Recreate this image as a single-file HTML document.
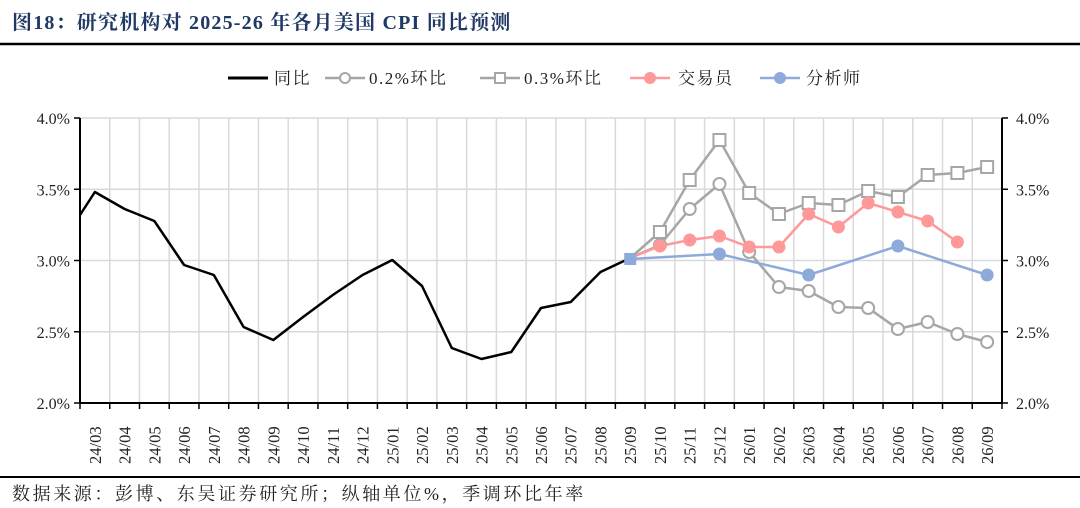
<!DOCTYPE html>
<html><head><meta charset="utf-8"><style>
body{margin:0;background:#fff;width:1080px;height:508px;overflow:hidden}
svg{display:block}
text{font-family:"Liberation Serif","Noto Serif CJK SC",serif}
</style></head><body>
<svg width="1080" height="508" viewBox="0 0 1080 508">
<text x="12" y="29" font-size="20" font-weight="bold" fill="#1f3864" letter-spacing="1.2">图18：研究机构对 2025-26 年各月美国 CPI 同比预测</text>
<line x1="0" y1="44" x2="1080" y2="44" stroke="#000" stroke-width="2.5"/>
<!-- legend -->
<g font-size="17" fill="#222" letter-spacing="1.5">
<line x1="228" y1="78" x2="268" y2="78" stroke="#000" stroke-width="3"/><text x="274" y="84">同比</text>
<line x1="325" y1="78" x2="365" y2="78" stroke="#a6a6a6" stroke-width="2.5"/><circle cx="345" cy="78" r="5" fill="#fff" stroke="#a6a6a6" stroke-width="2"/><text x="369" y="84">0.2%环比</text>
<line x1="480" y1="78" x2="520" y2="78" stroke="#a6a6a6" stroke-width="2.5"/><rect x="495" y="73" width="10" height="10" fill="#fff" stroke="#a6a6a6" stroke-width="2"/><text x="524" y="84">0.3%环比</text>
<line x1="630" y1="78" x2="670" y2="78" stroke="#ff9999" stroke-width="2.5"/><circle cx="650" cy="78" r="6" fill="#ff9999"/><text x="678" y="84">交易员</text>
<line x1="760" y1="78" x2="800" y2="78" stroke="#8eaadb" stroke-width="2.5"/><circle cx="780" cy="78" r="6" fill="#8eaadb"/><text x="806" y="84">分析师</text>
</g>
<g stroke="#d9d9d9" stroke-width="1.5" id="grid"></g>
<g id="axes"></g>
<g id="series"></g>
<line x1="0" y1="477" x2="1080" y2="477" stroke="#000" stroke-width="2"/>
<text x="12" y="500" font-size="18" fill="#222" letter-spacing="2.6">数据来源：彭博、东吴证券研究所；纵轴单位%，季调环比年率</text>
</svg>
<script>
const NS="http://www.w3.org/2000/svg";
function el(p,t,a,txt){const e=document.createElementNS(NS,t);for(const k in a)e.setAttribute(k,a[k]);if(txt!==undefined)e.textContent=txt;p.appendChild(e);return e;}
const L=80,R=1002,T=118,B=403,n=31,w=(R-L)/n;
const g=document.getElementById('grid'),ax=document.getElementById('axes'),s=document.getElementById('series');
for(let i=1;i<n;i++)el(g,'line',{x1:L+w*i,y1:T,x2:L+w*i,y2:B});
for(let k=0;k<4;k++){const y=T+k*(B-T)/4;el(g,'line',{x1:L,y1:y,x2:R,y2:y});}
el(ax,'line',{x1:L,y1:T,x2:L,y2:B,stroke:'#000','stroke-width':2});
el(ax,'line',{x1:R,y1:T,x2:R,y2:B,stroke:'#000','stroke-width':2});
el(ax,'line',{x1:L,y1:B,x2:R,y2:B,stroke:'#000','stroke-width':2});
const labs=['4.0%','3.5%','3.0%','2.5%','2.0%'];
for(let k=0;k<5;k++){const y=T+k*(B-T)/4;
el(ax,'line',{x1:L-6,y1:y,x2:L,y2:y,stroke:'#000','stroke-width':1.5});
el(ax,'line',{x1:R,y1:y,x2:R+6,y2:y,stroke:'#000','stroke-width':1.5});
el(ax,'text',{x:L-10,y:y+6,'font-size':16,'text-anchor':'end',fill:'#222'},labs[k]);
el(ax,'text',{x:R+14,y:y+6,'font-size':16,fill:'#222'},labs[k]);}
const cats=[];for(let i=3;i<=12;i++)cats.push('24/'+String(i).padStart(2,'0'));for(let i=1;i<=12;i++)cats.push('25/'+String(i).padStart(2,'0'));for(let i=1;i<=9;i++)cats.push('26/'+String(i).padStart(2,'0'));
for(let i=0;i<=n;i++)el(ax,'line',{x1:L+w*i,y1:B,x2:L+w*i,y2:B+6,stroke:'#000','stroke-width':1.5});
cats.forEach((c,i)=>{const x=L+w*(i+0.5)+6;el(ax,'text',{x:x,y:464,'font-size':16.5,fill:'#222',transform:`rotate(-90 ${x} 464)`},c);});
const cx=i=>L+w*(i+0.5);
function line(pts,col,sw){el(s,'polyline',{points:pts.map(p=>p.join(',')).join(' '),fill:'none',stroke:col,'stroke-width':sw,'stroke-linejoin':'round'});}
const blackY=[192,209,221,265,275,327,340,317,295,275,260,286,348,359,352,308,302,272,258];
const bp=[[L,215]].concat(blackY.map((y,i)=>[cx(i),y]));line(bp,'#000',2.5);
const y2=[258,245,209,184,252,287,291,307,308,329,322,334,342];
const p2=y2.map((y,i)=>[cx(18+i),y]);
const y3=[258,232,180,140,193,214,203,205,191,197,175,173,167];
const p3=y3.map((y,i)=>[cx(18+i),y]);
line(p3,'#a6a6a6',2.5);line(p2,'#a6a6a6',2.5);
const yt=[258,246,240,236,247,247,214,227,203,212,221,242];
const pt=yt.map((y,i)=>[cx(18+i),y]);line(pt,'#ff9999',2.5);
const pa=[[cx(18),259],[cx(21),254],[cx(24),275],[cx(27),246],[cx(30),275]];line(pa,'#8eaadb',2.5);
p3.slice(1).forEach(p=>el(s,'rect',{x:p[0]-6,y:p[1]-6,width:12,height:12,fill:'#fff',stroke:'#a6a6a6','stroke-width':2}));
p2.slice(1).forEach(p=>el(s,'circle',{cx:p[0],cy:p[1],r:6,fill:'#fff',stroke:'#a6a6a6','stroke-width':2}));
pt.slice(1).forEach(p=>el(s,'circle',{cx:p[0],cy:p[1],r:6.5,fill:'#ff9999'}));
pa.slice(1).forEach(p=>el(s,'circle',{cx:p[0],cy:p[1],r:6.5,fill:'#8eaadb'}));
el(s,'rect',{x:cx(18)-6,y:253,width:12,height:12,fill:'#8eaadb'});
</script>
</body></html>
